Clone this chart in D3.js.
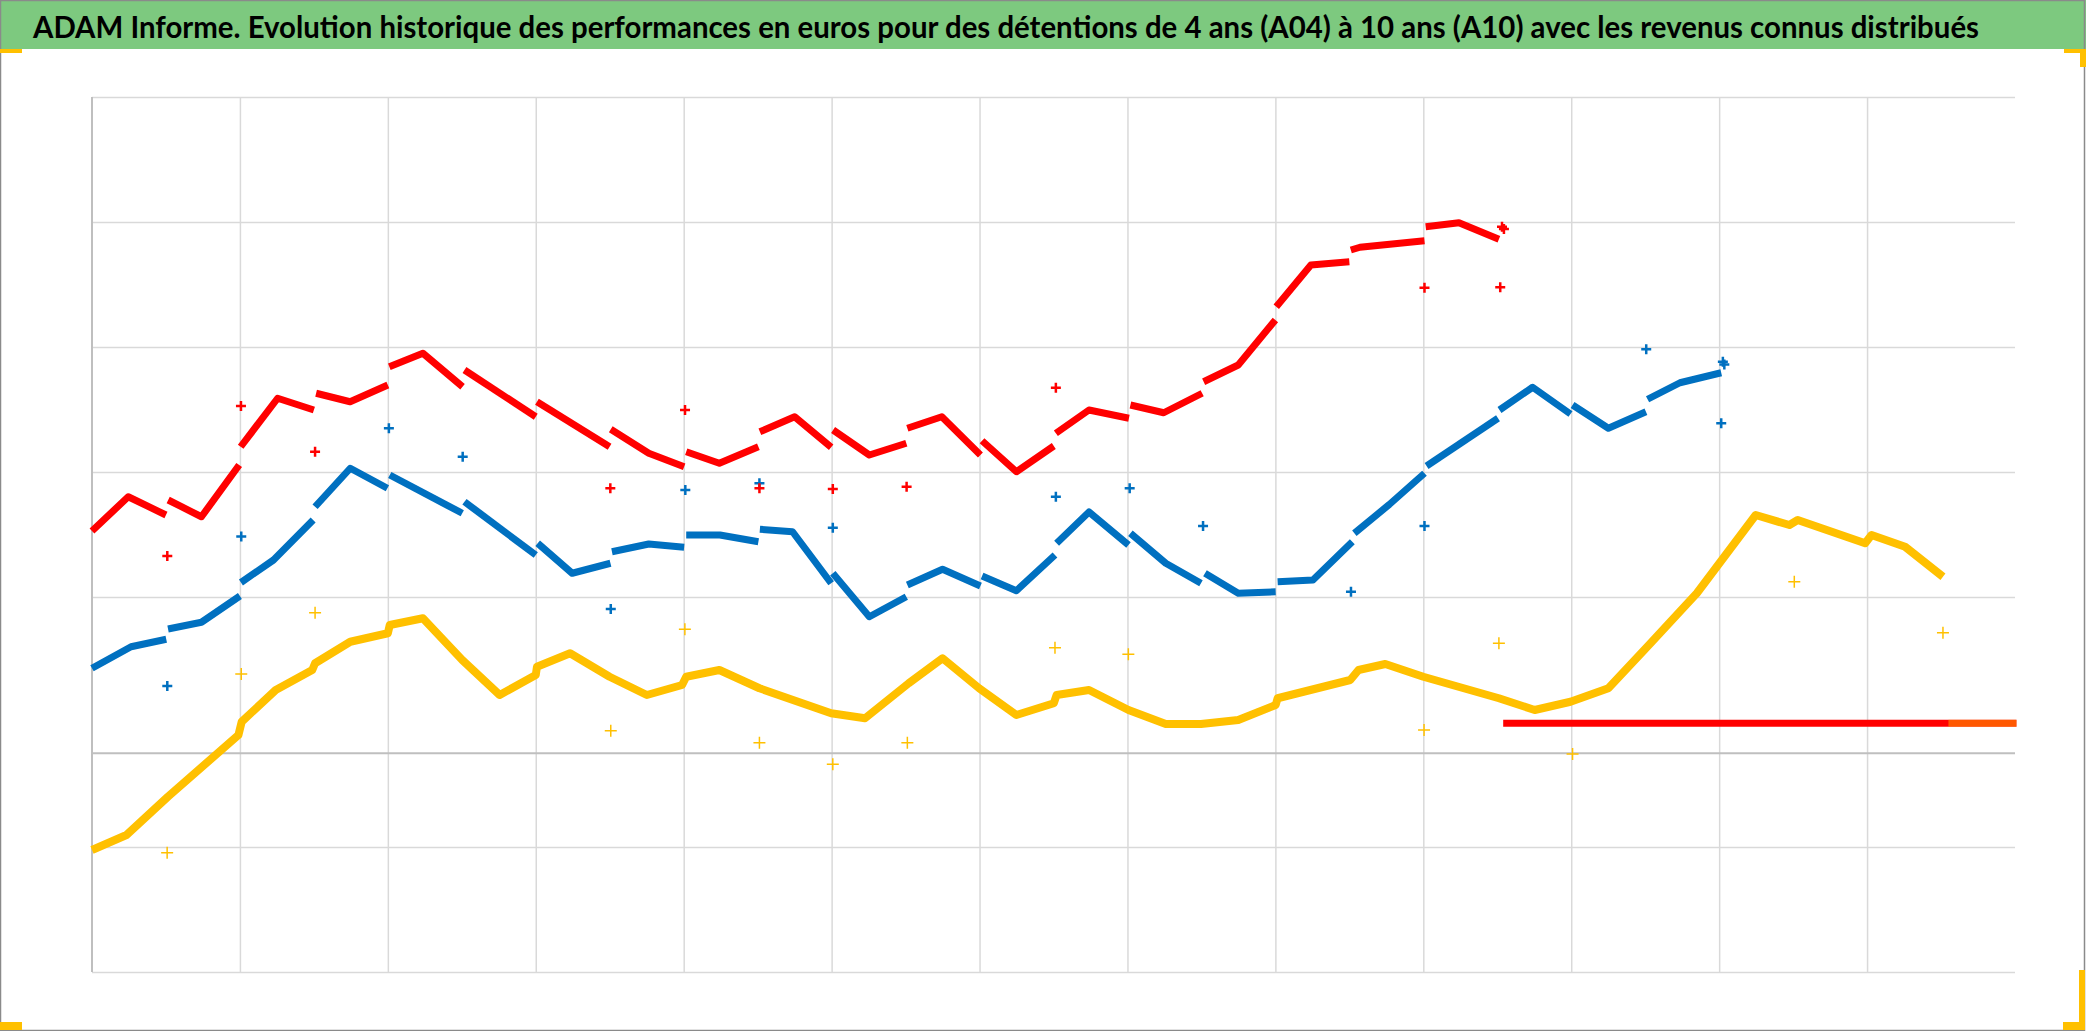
<!DOCTYPE html>
<html>
<head>
<meta charset="utf-8">
<script src="https://cdn.jsdelivr.net/npm/d3@7"></script>
<style>
  body { margin: 0; background: #fff; }
  svg { display: block; }
</style>
</head>
<body>
<div id="chart"></div>
<script>
// x = years since start of history (13 yearly columns), y = performance in euros
var titleText = "ADAM Informe. Evolution historique des performances en euros pour des détentions de 4 ans (A04) à 10 ans (A10) avec les revenus connus distribués";

var yearTicks = [1, 2, 3, 4, 5, 6, 7, 8, 9, 10, 11, 12];
var gridValues = [-2000, -1000, 1000, 2000, 3000, 4000, 5000];
var axisValue = -250;

// A10 (red), cut in half-year pieces
var redSegments = [
  [[0.00, 1528], [0.245, 1802], [0.50, 1656]],
  [[0.515, 1776], [0.74, 1642], [0.995, 2056]],
  [[1.005, 2202], [1.255, 2590], [1.50, 2496]],
  [[1.515, 2630], [1.745, 2562], [2.00, 2696]],
  [[2.01, 2842], [2.237, 2950], [2.505, 2682]],
  [[2.518, 2816], [3.00, 2442]],
  [[3.008, 2562], [3.499, 2202]],
  [[3.507, 2342], [3.764, 2150], [4.003, 2042]],
  [[4.017, 2162], [4.241, 2070], [4.505, 2202]],
  [[4.515, 2322], [4.75, 2442], [4.997, 2198]],
  [[5.01, 2336], [5.255, 2136], [5.505, 2230]],
  [[5.512, 2350], [5.745, 2442], [6.006, 2136]],
  [[6.017, 2250], [6.249, 2002], [6.502, 2208]],
  [[6.516, 2310], [6.74, 2496], [7.01, 2430]],
  [[7.02, 2536], [7.245, 2474], [7.505, 2630]],
  [[7.515, 2722], [7.749, 2856], [8.00, 3216]],
  [[8.006, 3322], [8.24, 3656], [8.50, 3682]],
  [[8.51, 3776], [8.572, 3798], [9.008, 3850]],
  [[9.016, 3962], [9.241, 3994], [9.511, 3862]]
];

// blue series
var blueSegments = [
  [[0.00, 430], [0.264, 602], [0.502, 662]],
  [[0.514, 744], [0.74, 798], [1.00, 1008]],
  [[1.007, 1116], [1.227, 1296], [1.495, 1616]],
  [[1.508, 1722], [1.746, 2030], [1.997, 1870]],
  [[2.013, 1976], [2.503, 1670]],
  [[2.518, 1762], [3.00, 1336]],
  [[3.013, 1430], [3.246, 1190], [3.505, 1270]],
  [[3.515, 1362], [3.764, 1424], [4.003, 1398]],
  [[4.017, 1496], [4.245, 1496], [4.505, 1442]],
  [[4.515, 1542], [4.736, 1522], [4.997, 1110]],
  [[5.008, 1190], [5.255, 842], [5.505, 1002]],
  [[5.512, 1096], [5.75, 1222], [6.006, 1088]],
  [[6.017, 1168], [6.249, 1050], [6.51, 1336]],
  [[6.521, 1430], [6.74, 1680], [7.007, 1416]],
  [[7.02, 1510], [7.259, 1270], [7.497, 1110]],
  [[7.524, 1190], [7.749, 1030], [8.002, 1042]],
  [[8.015, 1122], [8.254, 1136], [8.52, 1442]],
  [[8.534, 1510], [8.77, 1740], [9.008, 1990]],
  [[9.022, 2048], [9.505, 2430]],
  [[9.515, 2496], [9.739, 2678], [9.995, 2464]],
  [[10.009, 2536], [10.251, 2350], [10.505, 2482]],
  [[10.516, 2582], [10.735, 2714], [11.014, 2794]]
];

// A04 (yellow)
var yellowLine = [
  [0.00, -1024], [0.233, -904], [0.513, -598], [0.99, -104], [1.012, 2],
  [1.242, 256], [1.489, 416], [1.508, 470], [1.746, 642], [2.00, 710],
  [2.013, 776], [2.237, 830], [2.503, 496], [2.756, 216], [3.00, 376],
  [3.008, 442], [3.232, 550], [3.499, 362], [3.751, 216], [3.989, 296],
  [4.017, 362], [4.241, 416], [4.512, 270], [4.997, 70], [5.226, 30],
  [5.521, 310], [5.75, 510], [5.997, 270], [6.249, 56], [6.502, 150],
  [6.521, 216], [6.74, 256], [7.007, 96], [7.259, -16], [7.497, -16],
  [7.749, 16], [8.002, 136], [8.015, 190], [8.506, 336], [8.562, 416],
  [8.743, 464], [9.00, 362], [9.511, 190], [9.753, 96], [9.995, 162],
  [10.251, 270], [10.536, 630], [10.849, 1030], [11.247, 1656], [11.475, 1576],
  [11.531, 1616], [11.987, 1430], [12.03, 1496], [12.257, 1402], [12.513, 1162]
];

// isolated "+" points (distributed income dates)
var redPoints = [
  [0.509, 1328], [1.007, 2528], [1.508, 2162], [3.504, 1870], [4.009, 2496],
  [4.512, 1870], [5.008, 1864], [5.507, 1882], [6.516, 2674], [9.008, 3474],
  [9.52, 3478], [9.532, 3962], [9.545, 3945]
];
var bluePoints = [
  [0.509, 288], [1.009, 1484], [2.007, 2350], [2.506, 2122], [3.507, 904],
  [4.011, 1856], [4.512, 1910], [5.008, 1554], [6.516, 1802], [7.015, 1870],
  [7.511, 1568], [8.511, 1042], [9.008, 1568], [10.507, 2982], [11.014, 2390],
  [11.025, 2882], [11.035, 2860]
];
var yellowPoints = [
  [0.508, -1046], [1.009, 384], [1.508, 874], [3.507, -70], [4.008, 742],
  [4.512, -166], [5.008, -338], [5.512, -166], [6.51, 594], [7.006, 542],
  [9.005, -64], [9.511, 630], [10.009, -256], [11.508, 1122], [12.513, 714]
];

// after the end of each history the series stay at zero
var redZero = [[9.54, -10], [13.01, -10]];
var yellowZero = [[12.55, -10], [13.01, -10]];

var W = 2086, H = 1031;

var svg = d3.select('#chart').append('svg')
  .attr('width', W)
  .attr('height', H);

// chart frame and title bar
svg.append('rect')
  .attr('x', 0).attr('y', 0)
  .attr('width', W).attr('height', 49)
  .attr('fill', '#7dc97f');

svg.append('rect')
  .attr('x', 0.5).attr('y', 0.5)
  .attr('width', 2084).attr('height', 1030)
  .attr('fill', 'none')
  .attr('stroke', '#8a8a8a')
  .attr('stroke-width', 1.5);

svg.append('text')
  .attr('x', 33)
  .attr('y', 38)
  .attr('textLength', 1946)
  .attr('lengthAdjust', 'spacingAndGlyphs')
  .style('font-family', 'Lato, "Open Sans", sans-serif')
  .style('font-weight', 'bold')
  .style('font-size', '30px')
  .style('fill', '#000')
  .text(titleText);

// selection handles (yellow corners)
var handles = [
  [0, 49, 22, 4], [2064, 49, 22, 4], [2080, 49, 6, 18],
  [0, 1022, 22, 8], [2063, 1022, 22, 8], [2079, 970, 6, 60]
];
svg.append('g').selectAll('rect')
  .data(handles)
  .enter().append('rect')
  .attr('x', function(d) { return d[0]; })
  .attr('y', function(d) { return d[1]; })
  .attr('width', function(d) { return d[2]; })
  .attr('height', function(d) { return d[3]; })
  .attr('fill', '#ffc000');

//scales
var x = d3.scaleLinear().domain([0, 13]).range([92, 2015]);
var y = d3.scaleLinear().domain([-2000, 5000]).range([972, 97]);

// vertical gridlines
svg.append('g')
  .attr('transform', 'translate(0,' + y(-2000) + ')')
  .call(d3.axisBottom(x).tickValues(yearTicks).tickSize(-(y(-2000) - y(5000))).tickFormat(''))
  .call(function(g) { g.select('.domain').remove(); })
  .selectAll('line')
  .attr('stroke', '#d9d9d9')
  .attr('stroke-width', 1.5);

// horizontal gridlines
svg.append('g')
  .attr('transform', 'translate(' + x(0) + ',0)')
  .call(d3.axisLeft(y).tickValues(gridValues).tickSize(-(x(13) - x(0))).tickFormat(''))
  .call(function(g) { g.select('.domain').remove(); })
  .selectAll('line')
  .attr('stroke', '#d9d9d9')
  .attr('stroke-width', 1.5);

// axis lines
svg.append('line')
  .attr('x1', x(0)).attr('x2', x(13))
  .attr('y1', y(axisValue)).attr('y2', y(axisValue))
  .attr('stroke', '#bfbfbf')
  .attr('stroke-width', 2);

svg.append('line')
  .attr('x1', x(0)).attr('x2', x(0))
  .attr('y1', y(5000)).attr('y2', y(-2000))
  .attr('stroke', '#bfbfbf')
  .attr('stroke-width', 2);

var line = d3.line()
  .x(function(d) { return x(d[0]); })
  .y(function(d) { return y(d[1]); });

function drawSegments(segs, color, width) {
  svg.append('g')
    .selectAll('path')
    .data(segs)
    .enter().append('path')
    .attr('d', line)
    .attr('fill', 'none')
    .attr('stroke', color)
    .attr('stroke-width', width)
    .attr('stroke-linejoin', 'round');
}

//Draws "+" markers
function drawPlus(pts, color, size, width) {
  svg.append('g')
    .selectAll('path')
    .data(pts)
    .enter().append('path')
    .attr('d', function(d) {
      var cx = x(d[0]), cy = y(d[1]);
      return 'M' + (cx - size) + ',' + cy + 'H' + (cx + size) +
        'M' + cx + ',' + (cy - size) + 'V' + (cy + size);
    })
    .attr('stroke', color)
    .attr('stroke-width', width);
}

drawSegments([yellowLine], '#ffc000', 8);
drawSegments(blueSegments, '#0070c0', 7);
drawSegments(redSegments, '#ff0000', 7);

drawSegments([redZero], '#ff0000', 7);
svg.append('path')
  .datum(yellowZero)
  .attr('d', line)
  .attr('stroke', '#ffa000')
  .attr('stroke-opacity', 0.55)
  .attr('stroke-width', 7);

drawPlus(yellowPoints, '#ffc000', 6, 1.5);
drawPlus(bluePoints, '#0070c0', 5, 2.5);
drawPlus(redPoints, '#ff0000', 5, 2.5);
</script>
</body>
</html>
